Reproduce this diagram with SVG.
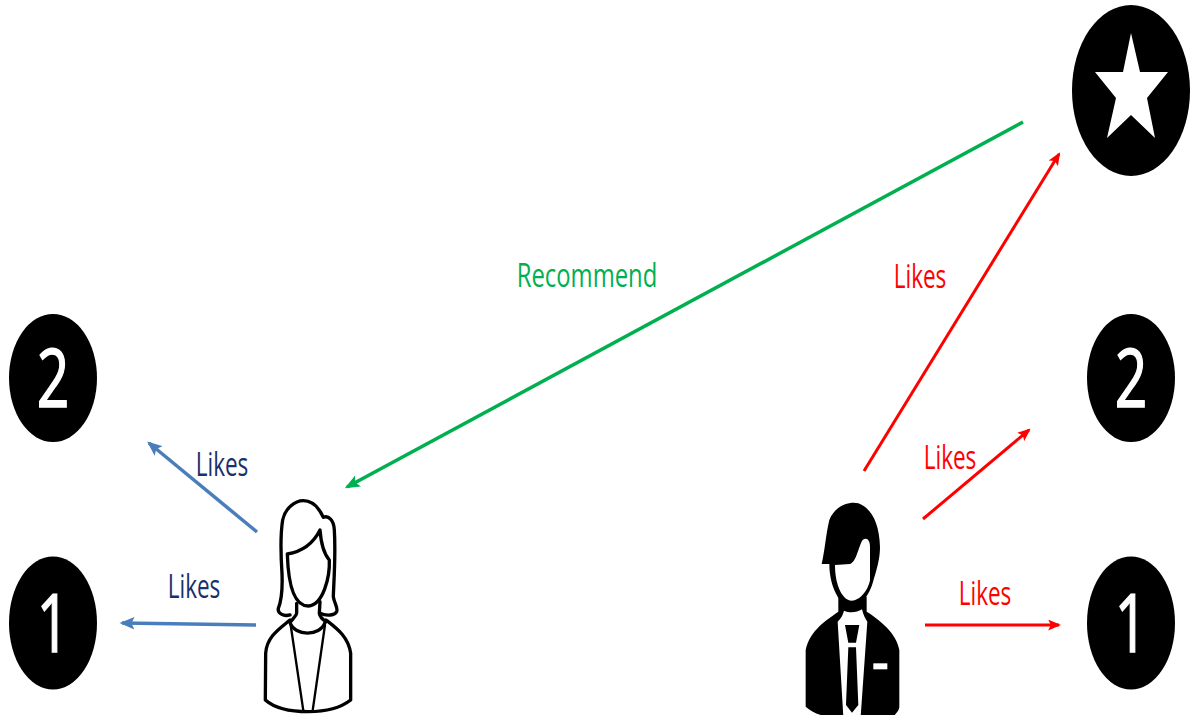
<svg xmlns="http://www.w3.org/2000/svg" width="1190" height="715" viewBox="0 0 1190 715">
<style>
.disc{fill:#000}
.num{font-family:"Open Sans","Liberation Sans",sans-serif;font-size:57px;fill:#fff;stroke:#fff;stroke-width:1.1px;text-anchor:middle}
.lbl{font-family:"Open Sans","Liberation Sans",sans-serif;font-size:22.5px;text-anchor:middle}
.navy{fill:#17306E}.red{fill:#FF0000}.green{fill:#00B050}
.c{fill:none}
.o{fill:none;stroke:#000;stroke-width:10;stroke-linejoin:round;stroke-linecap:round}
</style>
<defs>
<marker id="ab" markerUnits="userSpaceOnUse" markerWidth="15" markerHeight="13" refX="10" refY="5" orient="auto" viewBox="0 0 12 10"><path d="M0 0L12 5L0 10L2.5 5Z" fill="#4A7EBB"/></marker>
<marker id="ag" markerUnits="userSpaceOnUse" markerWidth="15" markerHeight="13" refX="10" refY="5" orient="auto" viewBox="0 0 12 10"><path d="M0 0L12 5L0 10L2.5 5Z" fill="#00B050"/></marker>
<marker id="ar" markerUnits="userSpaceOnUse" markerWidth="13" markerHeight="11" refX="10" refY="5" orient="auto" viewBox="0 0 12 10"><path d="M0 0L12 5L0 10L2.5 5Z" fill="#FF0000"/></marker>
</defs>
<rect width="1190" height="715" fill="#fff"/>
<g id="connectors" class="c">
<path d="M257 532L149 443" stroke="#4A7EBB" stroke-width="3.5" marker-end="url(#ab)"/>
<path d="M256 625L122 623" stroke="#4A7EBB" stroke-width="3.5" marker-end="url(#ab)"/>
<path d="M1023 122L347 487" stroke="#00B050" stroke-width="3.5" marker-end="url(#ag)"/>
<path d="M864 471L1059 154" stroke="#FF0000" stroke-width="3" marker-end="url(#ar)"/>
<path d="M923 519L1029 430" stroke="#FF0000" stroke-width="3" marker-end="url(#ar)"/>
<path d="M925 625L1059 625" stroke="#FF0000" stroke-width="3" marker-end="url(#ar)"/>
</g>
<g id="star-item">
<ellipse class="disc" cx="1131" cy="90.5" rx="59" ry="85.5"/>
<path fill="#fff" d="M1131 33L1140 72L1168 72L1147 98L1155 138L1131 115L1107 138L1116 98L1095 72L1123 72Z"/>
</g>
<g id="left-2"><ellipse class="disc" cx="53" cy="378" rx="44" ry="64"/><text class="num" transform="translate(53 407) scale(1 1.42)">2</text></g>
<g id="left-1"><ellipse class="disc" cx="53" cy="623" rx="44" ry="66.5"/><text class="num" transform="translate(53 652) scale(1 1.42)">1</text></g>
<g id="right-2"><ellipse class="disc" cx="1131" cy="378" rx="44" ry="64"/><text class="num" transform="translate(1131 407) scale(1 1.42)">2</text></g>
<g id="right-1"><ellipse class="disc" cx="1131" cy="623" rx="44" ry="66.5"/><text class="num" transform="translate(1131 652) scale(1 1.42)">1</text></g>
<g id="woman" transform="translate(240 480) scale(.3333)">
<path class="o" d="M150 405C130 410 112 400 115 385C125 360 128 330 126 280C122 220 120 170 128 120C135 85 165 62 190 62C220 62 240 90 250 112C265 105 282 120 283 150C288 230 280 330 280 350C283 370 295 385 290 395C285 405 262 410 240 400"/>
<path class="o" d="M142 222C185 215 220 190 240 150C243 190 250 220 268 240C270 290 250 375 205 378C165 378 145 320 142 222Z"/>
<path class="o" d="M170 370L170 400C170 405 160 415 152 425M240 365L238 400C240 410 250 420 258 425M150 428C165 470 240 470 255 428"/>
<path class="o" d="M150 420C120 445 80 470 77 520L76 660C110 690 170 695 205 695C250 695 300 685 332 660L332 520C325 470 290 445 258 420"/>
<path class="o" style="stroke-width:7" d="M152 435L190 692M255 435L218 692"/>
</g>
<g id="man" transform="translate(790 490) scale(.3333)">
<path d="M145 320L145 365C110 390 60 420 47 480L47 650C70 670 100 680 150 690L300 690C320 670 328 660 328 650L328 480C320 430 270 390 230 365L230 320Z" fill="#000"/>
<path d="M95 222C105 180 108 130 118 90C133 50 175 33 205 40C245 55 268 100 270 170C270 200 264 225 252 265C242 310 215 350 185 350C150 350 118 290 118 222Z" fill="#000"/>
<path d="M135 225L180 222C200 215 205 170 218 150C230 140 240 150 240 170L240 270C235 300 210 332 185 332C160 332 135 290 135 225Z" fill="#fff"/>
<path d="M143 395C152 385 158 378 162 362C180 370 200 368 216 358C220 375 225 385 232 395L212 680L160 680Z" fill="#fff"/>
<path d="M165 405L208 405L198 458L175 458ZM175 472L198 472L205 645L186 668L168 645Z" fill="#000"/>
<rect x="250" y="520" width="42" height="18" fill="#fff"/>
</g>
<g id="labels">
<text class="lbl navy" transform="translate(222 476) scale(1 1.43)">Likes</text>
<text class="lbl navy" transform="translate(194 598) scale(1 1.43)">Likes</text>
<text class="lbl green" transform="translate(587 287) scale(1.06 1.43)">Recommend</text>
<text class="lbl red" transform="translate(920 288) scale(1 1.43)">Likes</text>
<text class="lbl red" transform="translate(950 469) scale(1 1.43)">Likes</text>
<text class="lbl red" transform="translate(985 605) scale(1 1.43)">Likes</text>
</g>
</svg>
